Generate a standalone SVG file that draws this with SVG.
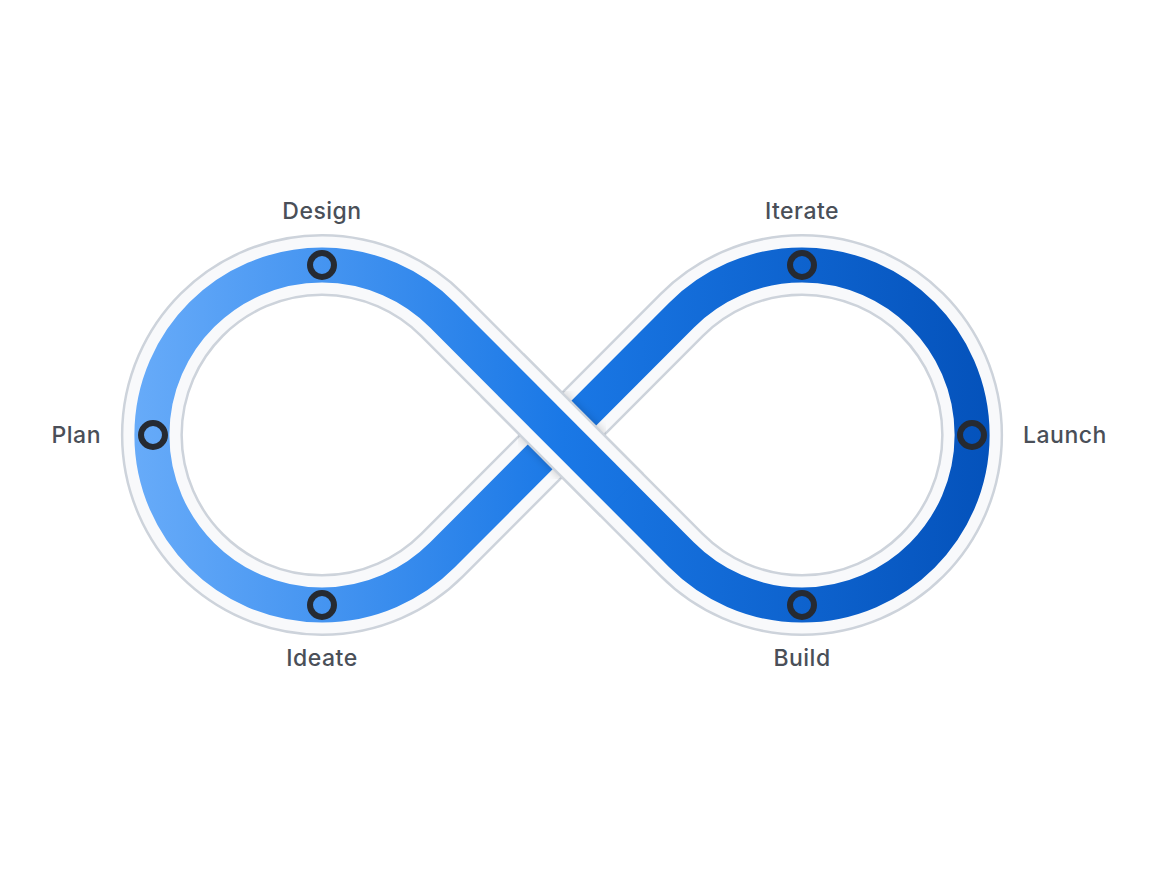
<svg xmlns="http://www.w3.org/2000/svg" width="1160" height="870" viewBox="0 0 1160 870">
<defs>
<linearGradient id="blue" gradientUnits="userSpaceOnUse" x1="135" y1="0" x2="990" y2="0">
<stop offset="0" stop-color="#67abf9"/>
<stop offset="0.5" stop-color="#1a78e6"/>
<stop offset="1" stop-color="#0452bb"/>
</linearGradient>
<filter id="shadow" x="-50%" y="-50%" width="200%" height="200%">
<feGaussianBlur stdDeviation="5"/>
</filter>
<mask id="cross" maskUnits="userSpaceOnUse" x="0" y="0" width="1160" height="870">
<polygon points="537.6,339.6 657.2,459.6 586.4,530.4 466.8,410.4" fill="#fff"/>
</mask>
<style>
.edge{fill:none;stroke:#cdd3db;stroke-width:62}
.gap{fill:none;stroke:#f8f9fb;stroke-width:57}
.band{fill:none;stroke:url(#blue);stroke-width:35}
.dot{fill:none;stroke:#262a31;stroke-width:6}
.lbl{font-family:Inter,"Liberation Sans",sans-serif;font-size:23px;font-weight:500;letter-spacing:0.5px;fill:#4a4f58}
</style>
</defs>
<rect width="1160" height="870" fill="#ffffff"/>
<g id="connectors">
<path class="edge" d="M442.4,315.1 L681.6,554.9 A170,170 0 1 0 681.6,315.1 L442.4,554.9 A170,170 0 1 1 442.4,315.1 Z"/>
<path class="gap" d="M442.4,315.1 L681.6,554.9 A170,170 0 1 0 681.6,315.1 L442.4,554.9 A170,170 0 1 1 442.4,315.1 Z"/>
<path class="band" d="M442.4,315.1 L681.6,554.9 A170,170 0 1 0 681.6,315.1 L442.4,554.9 A170,170 0 1 1 442.4,315.1 Z"/>
<path d="M540,413 L584,457" fill="none" stroke="#000" stroke-opacity="0.2" stroke-width="62" filter="url(#shadow)"/>
<g mask="url(#cross)">
<path class="edge" d="M442.4,315.1 L681.6,554.9"/>
<path class="gap" d="M442.4,315.1 L681.6,554.9"/>
<path class="band" d="M442.4,315.1 L681.6,554.9"/>
</g>
</g>
<g id="design"><circle class="dot" cx="322" cy="265" r="12"/><text class="lbl" x="322" y="219" text-anchor="middle">Design</text></g>
<g id="plan"><circle class="dot" cx="153" cy="435" r="12"/><text class="lbl" x="101" y="443" text-anchor="end">Plan</text></g>
<g id="ideate"><circle class="dot" cx="322" cy="605" r="12"/><text class="lbl" x="322" y="666" text-anchor="middle">Ideate</text></g>
<g id="iterate"><circle class="dot" cx="802" cy="265" r="12"/><text class="lbl" x="802" y="219" text-anchor="middle">Iterate</text></g>
<g id="launch"><circle class="dot" cx="972" cy="435" r="12"/><text class="lbl" x="1023" y="443">Launch</text></g>
<g id="build"><circle class="dot" cx="802" cy="605" r="12"/><text class="lbl" x="802" y="666" text-anchor="middle">Build</text></g>
</svg>
